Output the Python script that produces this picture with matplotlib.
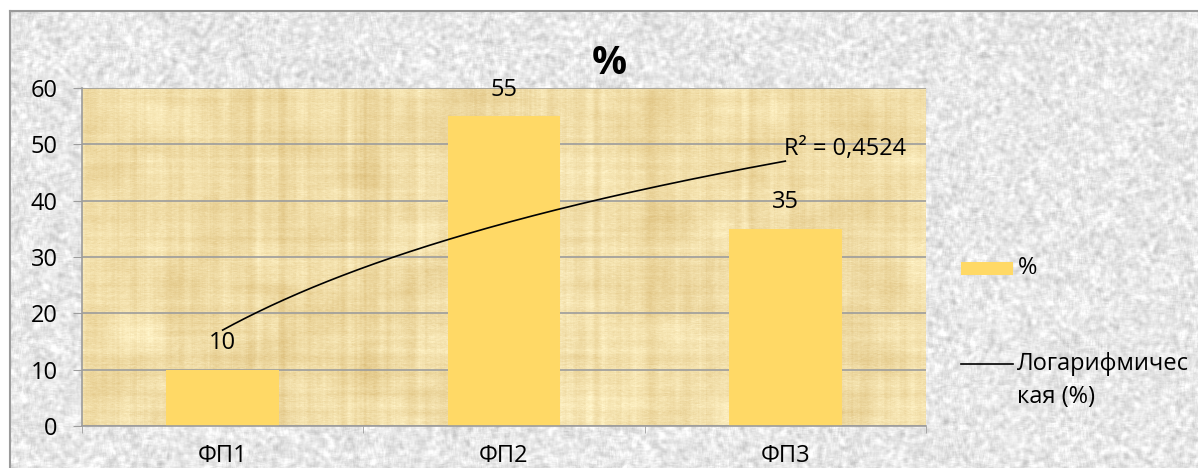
import numpy as np
import matplotlib
matplotlib.use("Agg")
import matplotlib.pyplot as plt
from matplotlib.patches import Rectangle
from matplotlib.lines import Line2D

categories = ["ФП1", "ФП2", "ФП3"]
percent = [10, 55, 35]
y_ticks = [0, 10, 20, 30, 40, 50, 60]

plt.rcParams["font.family"] = ["Open Sans", "DejaVu Sans"]

BAR = "#FFD966"
GRID = "#9c9c9c"
FS = 17

rng = np.random.default_rng(7)


def smooth(a, k, axis):
    out = np.zeros_like(a)
    for s in range(-k, k + 1):
        out += np.roll(a, s, axis=axis)
    return out / (2 * k + 1)


# grey stone texture behind the whole chart
H, W = 468, 1198
stone = rng.normal(0, 1, (H, W))
stone = smooth(smooth(stone, 2, 0), 2, 1)
stone = 0.91 + 0.04 * stone / stone.std()
stone_rgb = np.dstack([stone] * 3).clip(0, 1)

# parchment texture for the plot area
ph, pw = 338, 844
cols = smooth(rng.normal(0, 1, pw), 3, 0)
rows = smooth(rng.normal(0, 1, ph), 2, 0)
fine = smooth(rng.normal(0, 1, (ph, pw)), 1, 1)
blot = smooth(smooth(rng.normal(0, 1, (ph, pw)), 15, 0), 25, 1)
v = (0.45 * cols[None, :] / cols.std() + 0.25 * rows[:, None] / rows.std()
     + 0.3 * fine / fine.std() + 0.45 * blot / blot.std())
base = np.array([240, 220, 166]) / 255
amp = np.array([6, 9, 13]) / 255
parch = (base[None, None, :] + amp[None, None, :] * v[:, :, None]).clip(0, 1)

fig = plt.figure(figsize=(11.98, 4.68), dpi=100)
fig.patch.set_facecolor("white")

bg = fig.add_axes([10 / W, 0, 1 - 10 / W, 1 - 11 / H])
bg.imshow(stone_rgb, aspect="auto")
bg.set_xticks([])
bg.set_yticks([])
for side in ["right", "bottom"]:
    bg.spines[side].set_visible(False)
for side in ["left", "top"]:
    bg.spines[side].set_color("#9a9a9a")
    bg.spines[side].set_linewidth(1.5)

ax = fig.add_axes([82 / W, 1 - 426 / H, 844 / W, 338 / H])
x = np.arange(len(categories))
ax.imshow(parch, extent=(-0.5, 2.5, 0, 60), aspect="auto", zorder=0)
ax.bar(x, percent, width=0.4, color=BAR, zorder=2)

for i, val in enumerate(percent):
    ax.annotate(str(val), (i, val), xytext=(0, 19), textcoords="offset points",
                ha="center", va="center", fontsize=FS, zorder=4)

# logarithmic trendline
xs = np.arange(1, len(percent) + 1)
yv = np.array(percent, dtype=float)
a, b = np.polyfit(np.log(xs), yv, 1)
fit = a * np.log(xs) + b
r2 = 1 - ((yv - fit) ** 2).sum() / ((yv - yv.mean()) ** 2).sum()
xx = np.linspace(1, len(percent), 200)
ax.plot(xx - 1, a * np.log(xx) + b, color="black", lw=1.2, zorder=3)
ax.annotate(f"R² = {r2:.4f}".replace(".", ","), (len(percent) - 1, fit[-1]),
            xytext=(-1, 0), textcoords="offset points", ha="left", va="bottom",
            fontsize=FS, zorder=4)

ax.set_xlim(-0.5, 2.5)
ax.set_ylim(0, 60)
ax.set_yticks(y_ticks)
ax.set_xticks(x, categories)
ax.set_xticks([-0.5, 0.5, 1.5, 2.5], minor=True)
ax.set_axisbelow(True)
ax.yaxis.grid(True, color=GRID, lw=1.2)
for side in ["top", "right"]:
    ax.spines[side].set_visible(False)
for side in ["left", "bottom"]:
    ax.spines[side].set_color(GRID)
    ax.spines[side].set_linewidth(1.2)
ax.tick_params(axis="y", length=6.5, color=GRID, labelsize=FS, pad=11)
ax.tick_params(axis="x", which="major", length=0, labelsize=FS, pad=13)
ax.tick_params(axis="x", which="minor", length=5, color=GRID)

fig.text(609 / W, 1 - 63 / H, "%", fontsize=28, fontweight="bold",
         ha="center", va="center")

# legend, laid out by hand in figure pixels
tf = fig.transFigure
fig.add_artist(Rectangle((961 / W, 1 - 275 / H), 52 / W, 13 / H,
                         facecolor=BAR, edgecolor="none", transform=tf))
fig.text(1018 / W, 1 - 268 / H, "%", fontsize=FS, va="center", ha="left")
fig.add_artist(Line2D([961 / W, 1013 / W], [1 - 364 / H, 1 - 364 / H],
                      color="black", lw=1.2, transform=tf))
fig.text(1017 / W, 1 - 364 / H, "Логарифмичес", fontsize=FS, va="center",
         ha="left")
fig.text(1017 / W, 1 - 397 / H, "кая (%)", fontsize=FS, va="center",
         ha="left")

fig.savefig("out.png", dpi=100)
